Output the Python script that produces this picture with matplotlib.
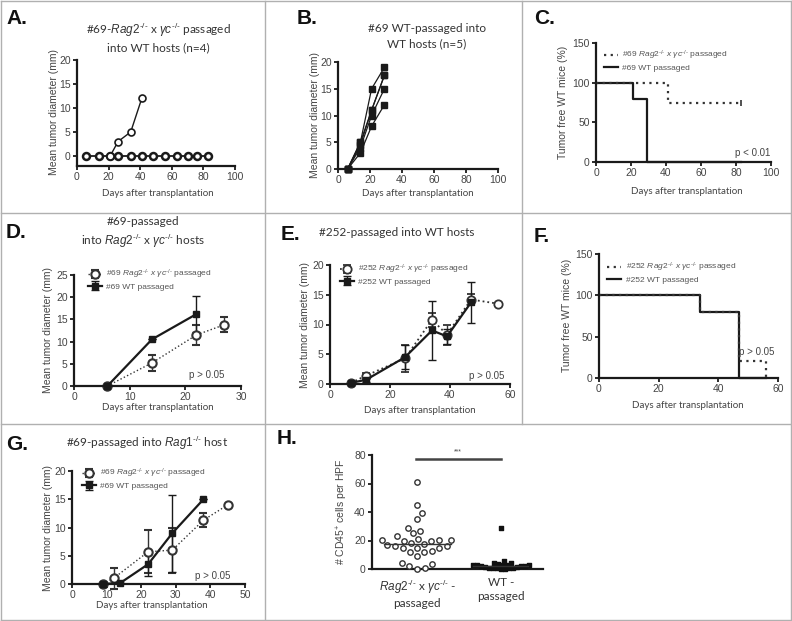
import numpy as np
import matplotlib
matplotlib.use("Agg")
import matplotlib.pyplot as plt
from matplotlib.lines import Line2D

plt.rcParams['font.family'] = ['Liberation Sans', 'DejaVu Sans']
plt.rcParams['mathtext.fontset'] = 'custom'
plt.rcParams['mathtext.rm'] = 'Liberation Sans'
plt.rcParams['mathtext.it'] = 'Liberation Sans:italic'
plt.rcParams['mathtext.bf'] = 'Liberation Sans:bold'

W, H = 792, 621
TXT = '#444444'
LNC = '#1a1a1a'
KO = r'^{\text{-/-}}'
RAG = r'$\mathit{Rag2}' + KO + r'$ x $\mathit{\gamma c}' + KO + '$'
RAG_LEG = r'$\mathit{Rag2}' + KO + r'$ $\mathit{x}$ $\mathit{\gamma c}' + KO + '$'

# ---- data ----
# A: #69 Rag2xgc passaged into WT hosts
a_days = [6, 14, 21, 26, 34, 41, 48, 56, 63, 70, 76, 83]
a_zero = [0, 0, 0, 0, 0, 0, 0, 0, 0, 0, 0, 0]
a_grow_days = [21, 26, 34, 41]
a_grow = [0, 3, 5, 12]

# B: #69 WT passaged into WT hosts
b_days = [6, 14, 21, 29]
b_mice = [[0, 5, 15, 19],
          [0, 5, 11, 17.5],
          [0, 4, 10, 15],
          [0, 3, 8, 12],
          [0, 4.5, 11, 17.5]]

# C: survival
c_rag_days = [0, 41, 83]
c_rag_surv = [100, 75, 75]
c_wt_days = [0, 21, 29, 83]
c_wt_surv = [100, 80, 0, 0]

# D
d_rag_days = [6, 14, 22, 27]
d_rag = [0, 5.2, 11.5, 13.8]
d_rag_err = [0, 1.8, 2.2, 1.7]
d_wt_days = [6, 14, 22]
d_wt = [0, 10.5, 16.2]
d_wt_err = [0, 0, 4.0]

# E
e_rag_days = [7, 12, 25, 34, 39, 47, 56]
e_rag = [0.2, 1.4, 4.3, 10.8, 8.3, 14.2, 13.5]
e_rag_err = [0.2, 0.5, 2.2, 1.2, 1.7, 1.0, 0]
e_wt_days = [7, 12, 25, 34, 39, 47]
e_wt = [0.2, 0.7, 4.5, 9.0, 8.0, 13.7]
e_wt_err = [0.2, 0.4, 2.0, 5.0, 1.3, 3.5]

# F: survival
f_rag_days = [0, 34, 47, 56]
f_rag_surv = [100, 80, 20, 0]
f_wt_days = [0, 34, 47, 56]
f_wt_surv = [100, 80, 0, 0]

# G
g_rag_days = [9, 12, 22, 29, 38, 45]
g_rag = [0, 1.0, 5.7, 6.0, 11.3, 14.0]
g_rag_err = [0, 1.8, 3.8, 4.0, 1.2, 0]
g_wt_days = [9, 14, 22, 29, 38]
g_wt = [0, 0.2, 3.5, 9.0, 15.0]
g_wt_err = [0, 0, 2.0, 6.8, 0]

# H: CD45+ cells per HPF
h_rag = [61, 45, 39, 35, 29, 27, 25, 23, 21, 20.5, 20.5, 20.5, 20, 20, 18, 17.5,
         16.5, 16, 16, 15, 14.5, 14.5, 12.5, 12, 12, 9, 4, 3.5, 2, 1, 0.3]
h_wt = [29, 5.5, 4.5, 4, 3.5, 3, 3, 3, 2.5, 2.5, 2, 2, 2, 1.5, 1.5, 1, 1, 1,
        0.5, 0.5, 0.3, 0.2]
h_groups = [RAG + ' -\npassaged', 'WT -\npassaged']

fig = plt.figure(figsize=(W / 100, H / 100), dpi=100)


def px_axes(l, t, r, b):
    return fig.add_axes([l / W, 1 - b / H, (r - l) / W, (b - t) / H])


def ftext(x, y, s, **kw):
    kw.setdefault('color', TXT)
    kw.setdefault('ha', 'center')
    kw.setdefault('va', 'center')
    kw.setdefault('zorder', 10)
    fig.text(x / W, 1 - y / H, s, **kw)


def style(ax):
    for s in ['top', 'right']:
        ax.spines[s].set_visible(False)
    for s in ['left', 'bottom']:
        ax.spines[s].set_linewidth(1.6)
        ax.spines[s].set_color(LNC)
    ax.tick_params(direction='out', length=3, width=1.3, color=LNC,
                   labelsize=7.5, labelcolor=TXT, pad=1.5)
    ax.patch.set_alpha(0)


def legend(ax, x, y, rev=False, sp=0.15):
    h_, l_ = ax.get_legend_handles_labels()
    if rev:
        h_, l_ = h_[::-1], l_[::-1]
    ax.legend(h_, l_, loc='upper left', bbox_to_anchor=(x / W, 1 - y / H),
              bbox_transform=fig.transFigure, frameon=False, fontsize=6,
              handlelength=1.6, labelspacing=sp, handletextpad=0.6, borderpad=0,
              labelcolor='#555555')


TF = ['Lato', 'DejaVu Sans']


def xlab(x, y, **kw):
    ftext(x, y, 'Days after transplantation', fontsize=7, family=TF, **kw)


# ---- panel borders ----
bc = '#b0b0b0'
for (x0, y0, x1, y1) in [(1, 1, 791, 1), (1, 620, 791, 620), (1, 1, 1, 620),
                         (791, 1, 791, 620), (1, 213, 791, 213),
                         (1, 424, 791, 424), (265, 1, 265, 620),
                         (522, 1, 522, 424)]:
    fig.add_artist(Line2D([x0 / W, x1 / W], [1 - y0 / H, 1 - y1 / H],
                          color=bc, lw=1.0))

# panel letters
for lab, x, y in [('A.', 6, 19), ('B.', 297, 19), ('C.', 534, 19),
                  ('D.', 6, 232), ('E.', 281, 235), ('F.', 534, 236),
                  ('G.', 6, 445), ('H.', 277, 438)]:
    ftext(x, y, lab, ha='left', fontsize=15, fontweight='bold', color='#111111')

# ---- A ----
ax = px_axes(77, 60, 235, 166)
style(ax)
ax.plot(a_days, a_zero, '-o', color=LNC, lw=1.3, ms=5, mfc='white', mew=1.8, clip_on=False)
ax.plot(a_grow_days, a_grow, '-o', color=LNC, lw=1.0, ms=5, mfc='white', mew=1.2, clip_on=False)
ax.set_xlim(0, 100)
ax.set_ylim(-2.1, 20)
ax.set_xticks([0, 20, 40, 60, 80, 100])
ax.set_yticks([0, 5, 10, 15, 20])
ftext(158, 37, '#69-' + RAG + ' passaged\ninto WT hosts (n=4)', fontsize=8.5,
      family=TF, color='#333333', linespacing=1.3)
xlab(158, 193)
ftext(54, 112, 'Mean tumor diameter (mm)', fontsize=7.5, rotation=90)

# ---- B ----
ax = px_axes(338, 62, 498, 169)
style(ax)
for m in b_mice:
    ax.plot(b_days, m, '-s', color=LNC, lw=0.9, ms=4.5, clip_on=False)
ax.set_xlim(0, 100)
ax.set_ylim(0, 20)
ax.set_xticks([0, 20, 40, 60, 80, 100])
ax.set_yticks([0, 5, 10, 15, 20])
ftext(427, 36, '#69 WT-passaged into\nWT hosts (n=5)', fontsize=8.5, family=TF,
      color='#333333', linespacing=1.45)
xlab(418, 193)
ftext(315, 115, 'Mean tumor diameter (mm)', fontsize=7.5, rotation=90)

# ---- C ----
ax = px_axes(596, 43, 771, 162)
style(ax)
ax.step(c_wt_days, c_wt_surv, where='post', color=LNC, lw=1.6, clip_on=False,
        label='#69 WT passaged')
ax.step(c_rag_days, c_rag_surv, where='post', color='#333333', lw=1.6, ls=(0, (1, 2)),
        clip_on=False, label='#69 ' + RAG_LEG + ' passaged')
ax.plot(c_rag_days[-1:], c_rag_surv[-1:], marker='|', color='#333333', ms=4, mew=1.2)
ax.set_xlim(0, 100)
ax.set_ylim(0, 150)
ax.set_xticks([0, 20, 40, 60, 80, 100])
ax.set_yticks([0, 50, 100, 150])
legend(ax, 600, 45, rev=True)
ftext(753, 153, 'p < 0.01', fontsize=7)
xlab(687, 192)
ftext(563, 102, 'Tumor free WT mice (%)', fontsize=7.5, rotation=90)

# ---- D ----
ax = px_axes(74, 275, 241, 386)
style(ax)
ax.errorbar(d_rag_days, d_rag, yerr=d_rag_err, fmt=':o', color='#333333', lw=1.0,
            ms=6, mfc='white', mew=1.5, capsize=3, elinewidth=1.0, clip_on=False,
            label='#69 ' + RAG_LEG + ' passaged')
ax.errorbar(d_wt_days, d_wt, yerr=d_wt_err, fmt='-s', color=LNC, lw=1.6, ms=5,
            capsize=3, elinewidth=1.0, clip_on=False, label='#69 WT passaged')
ax.set_xlim(0, 30)
ax.set_ylim(0, 25)
ax.set_xticks([0, 10, 20, 30])
ax.set_yticks([0, 5, 10, 15, 20, 25])
legend(ax, 84, 264)
ftext(207, 375, 'p > 0.05', fontsize=7)
ftext(143, 233, '#69-passaged\ninto ' + RAG + ' hosts', fontsize=8.5, family=TF,
      color='#333333', linespacing=1.4)
xlab(158, 407)
ftext(48, 330, 'Mean tumor diameter (mm)', fontsize=7.5, rotation=90)

# ---- E ----
ax = px_axes(330, 265, 510, 384)
style(ax)
ax.errorbar(e_rag_days, e_rag, yerr=e_rag_err, fmt=':o', color='#333333', lw=1.3,
            ms=6, mfc='white', mew=1.3, capsize=3, elinewidth=1.0, clip_on=False,
            label='#252 ' + RAG_LEG + ' passaged')
ax.errorbar(e_wt_days, e_wt, yerr=e_wt_err, fmt='-s', color=LNC, lw=1.6, ms=5,
            capsize=3, elinewidth=1.0, clip_on=False, label='#252 WT passaged')
ax.set_xlim(0, 60)
ax.set_ylim(0, 20)
ax.set_xticks([0, 20, 40, 60])
ax.set_yticks([0, 5, 10, 15, 20])
legend(ax, 336, 259)
ftext(487, 376, 'p > 0.05', fontsize=7)
ftext(397, 233, '#252-passaged into WT hosts', fontsize=8.5, family=TF, color='#333333')
ax.text(0.5, -0.22, 'Days after transplantation', transform=ax.transAxes,
        ha='center', va='center', fontsize=7, family=TF, color=TXT, clip_on=False,
        zorder=20)
ftext(305, 325, 'Mean tumor diameter (mm)', fontsize=7.5, rotation=90)

# ---- F ----
ax = px_axes(599, 254, 778, 378)
style(ax)
ax.step(f_wt_days, f_wt_surv, where='post', color=LNC, lw=1.6, clip_on=False,
        label='#252 WT passaged')
ax.step(f_rag_days, f_rag_surv, where='post', color='#333333', lw=1.6, ls=(0, (1, 2)),
        clip_on=False, label='#252 ' + RAG_LEG + ' passaged')
ax.set_xlim(0, 60)
ax.set_ylim(0, 150)
ax.set_xticks([0, 20, 40, 60])
ax.set_yticks([0, 50, 100, 150])
legend(ax, 603, 257, rev=True)
ftext(757, 352, 'p > 0.05', fontsize=7)
xlab(688, 405)
ftext(567, 315, 'Tumor free WT mice (%)', fontsize=7.5, rotation=90)

# ---- G ----
ax = px_axes(72, 471, 245, 584)
style(ax)
ax.errorbar(g_rag_days, g_rag, yerr=g_rag_err, fmt=':o', color='#333333', lw=1.0,
            ms=6, mfc='white', mew=1.5, capsize=3, elinewidth=1.0, clip_on=False,
            label='#69 ' + RAG_LEG + ' passaged')
ax.errorbar(g_wt_days, g_wt, yerr=g_wt_err, fmt='-s', color=LNC, lw=1.6, ms=5,
            capsize=3, elinewidth=1.0, clip_on=False, label='#69 WT passaged')
ax.set_xlim(0, 50)
ax.set_ylim(0, 20)
ax.set_xticks([0, 10, 20, 30, 40, 50])
ax.set_yticks([0, 5, 10, 15, 20])
legend(ax, 78, 463, sp=0.25)
ftext(213, 576, 'p > 0.05', fontsize=7)
ftext(147, 443, '#69-passaged into ' + r'$\mathit{Rag1}' + KO + '$ host', fontsize=8.5,
      family=TF, color='#333333')
xlab(152, 606)
ftext(48, 528, 'Mean tumor diameter (mm)', fontsize=7.5, rotation=90)

# ---- H ----
ax = px_axes(372, 455, 543, 569)
style(ax)
ax.set_xlim(-0.54, 1.5)
ax.set_ylim(0, 80)
xs_px = 84.0           # px per group unit
ys_px = 114.0 / 80.0   # px per y unit


def swarm(vals, diam, step=1.0):
    placed = []
    offs = []
    for v in sorted(vals):
        best = None
        for k in range(0, 80):
            for sgn in ([1, -1] if k else [1]):
                dx = sgn * k * step
                ok = True
                for (px, pv) in placed:
                    if (px - dx) ** 2 + ((pv - v) * ys_px) ** 2 < diam ** 2:
                        ok = False
                        break
                if ok:
                    best = dx
                    break
            if best is not None:
                break
        placed.append((best, v))
        offs.append((best / xs_px, v))
    return offs


pts = swarm(h_rag, 7.5)
ax.scatter([0 + p[0] for p in pts], [p[1] for p in pts], s=15, facecolors='white',
           edgecolors='#333333', linewidths=1.0, clip_on=False, zorder=3)
pts = swarm(h_wt, 4.0)
ax.scatter([1 + p[0] for p in pts], [p[1] for p in pts], s=10, marker='s',
           color='#111111', clip_on=False, zorder=3)
ax.plot([-0.4, 0.4], [np.median(h_rag)] * 2, color='#333333', lw=1.0, zorder=4)
ax.plot([0.67, 1.32], [np.median(h_wt)] * 2, color='#333333', lw=1.0, zorder=4)
ax.plot([-0.02, 1.0], [77.5, 77.5], color='#444444', lw=1.8, clip_on=False)
ax.text(0.49, 79.5, '***', ha='center', va='bottom', fontsize=5, color=TXT)
ax.set_yticks([0, 20, 40, 60, 80])
ax.set_xticks([0, 1])
ax.set_xticklabels(h_groups, fontsize=8.5, family=TF, color='#333333',
                   linespacing=1.3)
ax.tick_params(axis='x', length=0, pad=6)
ftext(342, 512, '# CD45$^{+}$ cells per HPF', fontsize=7.5, rotation=90)

fig.savefig('out.png', dpi=100)
